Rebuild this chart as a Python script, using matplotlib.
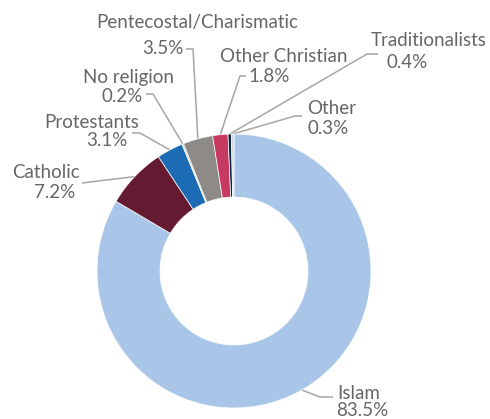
import matplotlib
matplotlib.use("Agg")
import matplotlib.pyplot as plt
import numpy as np

labels = ['Islam', 'Catholic', 'Protestants', 'No religion',
          'Pentecostal/Charismatic', 'Other Christian', 'Traditionalists', 'Other']
shares = [83.5, 7.2, 3.1, 0.2, 3.5, 1.8, 0.4, 0.3]
colors = ['#A9C6E8', '#641A31', '#1C6BB5', '#D0D0D0',
          '#8E8A85', '#C63A62', '#0D2445', '#D3D8DE']

# label layout in pixels (top-left origin): name centre, pct centre, leader start, elbow
layout = {
    'Islam':                   ((359, 393), (362, 410), (333, 397), (320, 397)),
    'Catholic':                ((46, 173), (55, 192), (82, 183), (82, 183)),
    'Protestants':             ((92, 122), (107, 140), (132, 133), (140, 133)),
    'No religion':             ((128, 77), (122, 96), (146, 94), (153, 94)),
    'Pentecostal/Charismatic': ((197, 23), (163, 49), (186, 49), (193, 49)),
    'Other Christian':         ((284, 57), (269, 76), (246, 76), (240, 76)),
    'Traditionalists':         ((429, 40), (407, 63), (378, 54), (367, 54)),
    'Other':                   ((332, 109), (328, 128), (302, 116), (295, 116)),
}

W, H = 490, 419
cx, cy, R = 234, 271, 137

fig = plt.figure(figsize=(W / 100, H / 100), dpi=100)
ax = fig.add_axes([0, 0, 1, 1])

def fy(y):
    return H - y

wedges, _ = ax.pie(shares, colors=colors, radius=R, center=(cx, fy(cy)),
                   startangle=90, counterclock=False,
                   wedgeprops=dict(width=R * 0.46, edgecolor='white', linewidth=0.5))

text_kw = dict(fontsize=13.5, color='#666666', family=['Lato', 'DejaVu Sans'],
               ha='center', va='center')

for w, name, val in zip(wedges, labels, shares):
    (nx, ny), (px, py), (sx, sy), (ex, ey) = layout[name]
    ang = np.deg2rad((w.theta1 + w.theta2) / 2)
    axx = cx + R * np.cos(ang)
    ayy = fy(cy) + R * np.sin(ang)
    ax.plot([sx, ex, axx], [fy(sy), fy(ey), ayy], color='#A6A6A6', lw=1.1,
            solid_capstyle='butt', zorder=0)
    ax.text(nx, fy(ny), name, **text_kw)
    ax.text(px, fy(py), f'{val}%', **text_kw)

ax.set_xlim(0, W)
ax.set_ylim(0, H)
ax.set_aspect('equal')
ax.axis('off')

fig.savefig('out.png', dpi=100)
